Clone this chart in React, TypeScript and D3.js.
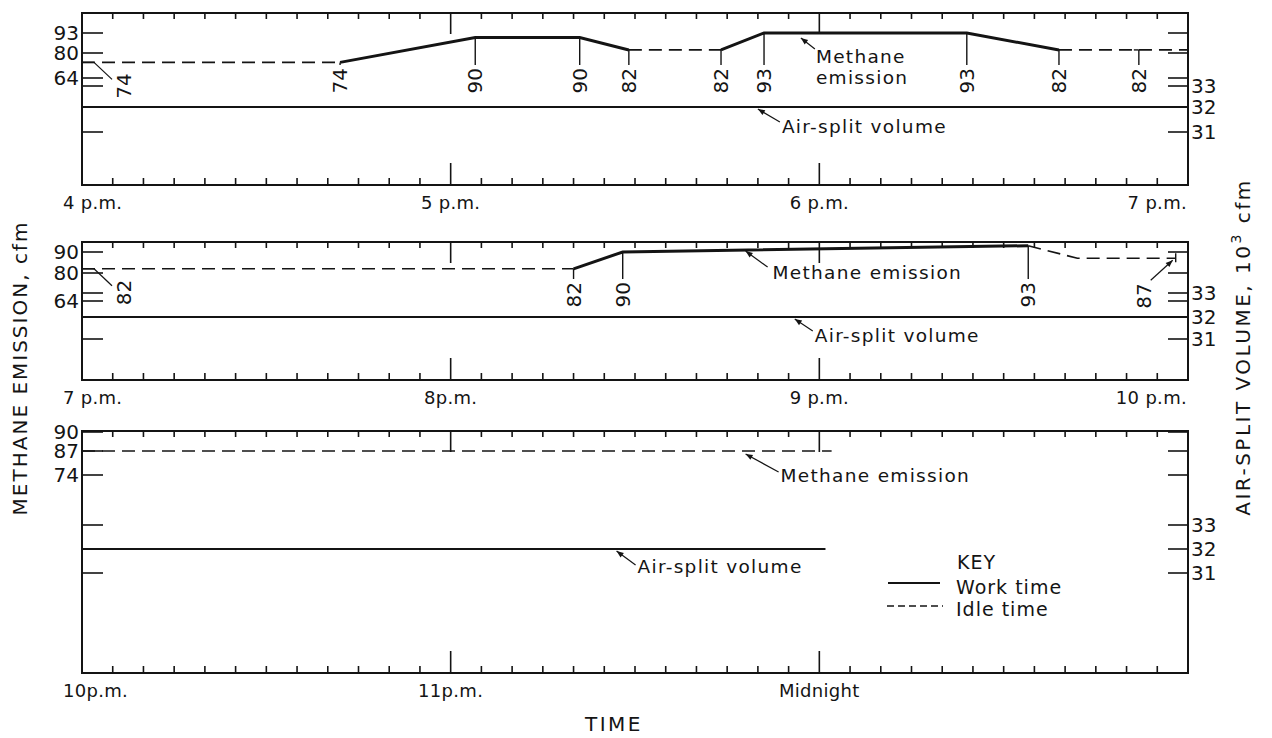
import { useRef, useEffect } from "react";
import * as d3 from "d3";

// methane emission (cfm): breakpoints for each 3-hour strip
// shift = kind of the segment that starts at that point, note = how the value is labelled
const p1Times = ["16:00", "16:42", "17:04", "17:21", "17:29", "17:44", "17:51", "18:24", "18:39", "18:52", "19:00"];
const p1Methane = [74, 74, 90, 90, 82, 82, 93, 93, 82, 82, 82];
const p1Shift = ["idle", "work", "work", "work", "idle", "work", "work", "work", "idle", "idle"];
const p1Notes = ["start", "down", "down", "down", "down", "down", "down", "down", "down", "hook", ""];

const p2Times = ["19:00", "20:20", "20:28", "21:34", "21:42", "21:58"];
const p2Methane = [82, 82, 90, 93, 87, 87];
const p2Shift = ["idle", "work", "work", "idle", "idle"];
const p2Notes = ["start", "down", "down", "down", "", "end"];

const p3Times = ["22:00", "24:02"];
const p3Methane = [87, 87];
const p3Shift = ["idle"];
const p3Notes = ["", ""];

// air-split volume (10^3 cfm)
const p1AirTimes = ["16:00", "19:00"];
const p1Air = [32, 32];
const p2AirTimes = ["19:00", "22:00"];
const p2Air = [32, 32];
const p3AirTimes = ["22:00", "24:01"];
const p3Air = [32, 32];

// tick values
const p1MethaneTicks = [93, 80, 64];
const p2MethaneTicks = [90, 80, 64];
const p3MethaneTicks = [90, 87, 74];
const airTicks = [33, 32, 31];

const p1HourLabels = ["4 p.m.", "5 p.m.", "6 p.m.", "7 p.m."];
const p2HourLabels = ["7 p.m.", "8p.m.", "9 p.m.", "10 p.m."];
const p3HourLabels = ["10p.m.", "11p.m.", "Midnight"];

const W = 1272;
const H = 738;
const LEFT = 82;
const RIGHT = 1188;
const INK = "#141414";
const FONT = "'DejaVu Sans', sans-serif";

const clock = (s: string) => {
  const [h, m] = s.split(":").map(Number);
  return h + m / 60;
};

interface Callout {
  time: string;
  lines: string[];
  tipDy: number;
  tail: [number, number];
  text: [number, number];
}

interface Panel {
  start: number;
  top: number;
  bottom: number;
  times: string[];
  methane: number[];
  shift: string[];
  notes: string[];
  airTimes: string[];
  air: number[];
  methaneTicks: number[];
  methaneRange: number[];
  airRange: number[];
  noteDrop: number;
  hourLabels: string[];
  methaneCallout: Callout;
  airCallout: Callout;
}

const panels: Panel[] = [
  {
    start: 16, top: 13, bottom: 185,
    times: p1Times, methane: p1Methane, shift: p1Shift, notes: p1Notes,
    airTimes: p1AirTimes, air: p1Air,
    methaneTicks: p1MethaneTicks, methaneRange: [33, 53, 78],
    airRange: [86, 107, 132], noteDrop: 52, hourLabels: p1HourLabels,
    methaneCallout: { time: "17:57", lines: ["Methane", "emission"], tipDy: 5, tail: [14, 11], text: [15, 25] },
    airCallout: { time: "17:50", lines: ["Air-split volume"], tipDy: 2, tail: [22, 13], text: [24, 24] },
  },
  {
    start: 19, top: 242, bottom: 380,
    times: p2Times, methane: p2Methane, shift: p2Shift, notes: p2Notes,
    airTimes: p2AirTimes, air: p2Air,
    methaneTicks: p2MethaneTicks, methaneRange: [252, 273, 301],
    airRange: [293, 317, 339], noteDrop: 37, hourLabels: p2HourLabels,
    methaneCallout: { time: "20:48", lines: ["Methane emission"], tipDy: 1, tail: [22, 16], text: [27, 28] },
    airCallout: { time: "20:56", lines: ["Air-split volume"], tipDy: 2, tail: [18, 12], text: [20, 23] },
  },
  {
    start: 22, top: 431, bottom: 673,
    times: p3Times, methane: p3Methane, shift: p3Shift, notes: p3Notes,
    airTimes: p3AirTimes, air: p3Air,
    methaneTicks: p3MethaneTicks, methaneRange: [432, 451, 475],
    airRange: [525, 549, 573], noteDrop: 40, hourLabels: p3HourLabels,
    methaneCallout: { time: "23:48", lines: ["Methane emission"], tipDy: 3, tail: [33, 18], text: [35, 28] },
    airCallout: { time: "23:27", lines: ["Air-split volume"], tipDy: 2, tail: [19, 14], text: [21, 22] },
  },
];

type Sel = d3.Selection<any, unknown, null, undefined>;

function text(g: Sel, x: number, y: number, s: string, size = 19, anchor = "start", ls = 0) {
  return g
    .append("text")
    .attr("x", x)
    .attr("y", y)
    .attr("font-size", size)
    .attr("font-family", FONT)
    .attr("letter-spacing", ls)
    .attr("text-anchor", anchor)
    .attr("fill", INK)
    .text(s);
}

// value written sideways, reading upward, its end at (x, yTop)
function sideLabel(g: Sel, x: number, yTop: number, s: string) {
  g.append("text")
    .attr("transform", `translate(${x},${yTop}) rotate(-90)`)
    .attr("text-anchor", "end")
    .attr("dy", "0.36em")
    .attr("font-size", 20)
    .attr("font-family", FONT)
    .attr("fill", INK)
    .text(s);
}

function seg(g: Sel, x1: number, y1: number, x2: number, y2: number, w = 1.2) {
  return g
    .append("line")
    .attr("x1", x1).attr("y1", y1).attr("x2", x2).attr("y2", y2)
    .attr("stroke", INK).attr("stroke-width", w);
}

function drawPanel(svg: Sel, p: Panel) {
  const g = svg.append("g");
  const x = d3.scaleLinear().domain([p.start, p.start + 3]).range([LEFT, RIGHT]);
  const yM = d3.scaleLinear().domain(p.methaneTicks).range(p.methaneRange);
  const yA = d3.scaleLinear().domain(airTicks).range(p.airRange);

  // frame
  g.append("rect")
    .attr("x", LEFT).attr("y", p.top)
    .attr("width", RIGHT - LEFT).attr("height", p.bottom - p.top)
    .attr("fill", "none").attr("stroke", INK).attr("stroke-width", 2);

  // time ticks every 5 minutes, hours longer
  d3.range(1, 36).forEach((i) => {
    const tx = x(p.start + i / 12);
    const hour = i % 12 === 0;
    seg(g, tx, p.bottom, tx, p.bottom - (hour ? 22 : 7), 1.6);
    seg(g, tx, p.top, tx, p.top + (hour ? 21 : 6), 1.6);
  });

  // vertical ticks: both scales on both sides
  const ys = [...p.methaneTicks.map((v) => yM(v)), ...airTicks.map((v) => yA(v))];
  ys.forEach((yy) => {
    seg(g, LEFT, yy, LEFT + 21, yy, 1.6);
    seg(g, RIGHT - 20, yy, RIGHT, yy, 1.6);
  });
  p.methaneTicks.forEach((v) =>
    text(g, LEFT - 3, yM(v), String(v), 20).attr("dy", "0.36em").attr("text-anchor", "end")
  );
  airTicks.forEach((v) => text(g, RIGHT + 3, yA(v), String(v), 20).attr("dy", "0.36em"));

  // air-split volume
  const air = p.airTimes.map((t, i) => [clock(t), p.air[i]] as [number, number]);
  g.append("path")
    .attr("d", d3.line<[number, number]>().x((d) => x(d[0])).y((d) => yA(d[1]))(air))
    .attr("fill", "none").attr("stroke", INK).attr("stroke-width", 1.8);

  // methane emission, grouped in runs of work / idle
  const pts = p.times.map((t, i) => [clock(t), p.methane[i]] as [number, number]);
  const line = d3.line<[number, number]>().x((d) => x(d[0])).y((d) => yM(d[1]));
  let runStart = 0;
  for (let i = 1; i <= p.shift.length; i++) {
    if (i === p.shift.length || p.shift[i] !== p.shift[runStart]) {
      const work = p.shift[runStart] === "work";
      g.append("path")
        .attr("d", line(pts.slice(runStart, i + 1)))
        .attr("fill", "none")
        .attr("stroke", INK)
        .attr("stroke-width", work ? 3 : 1.6)
        .attr("stroke-dasharray", work ? null : "13,7");
      runStart = i;
    }
  }

  // value notes
  const dropY = p.top + p.noteDrop;
  pts.forEach(([t, v], i) => {
    const kind = p.notes[i];
    const px = x(t);
    const py = yM(v);
    if (kind === "down" || kind === "hook") {
      if (kind === "hook") seg(g, px - 5, py, px, py, 1.4);
      seg(g, px, py, px, dropY, 1.4);
      sideLabel(g, px, dropY + 3, String(v));
    } else if (kind === "start") {
      seg(g, px, py, px + 12, py, 1.4);
      seg(g, px + 12, py, px + 30, py + 17, 1.2);
      sideLabel(g, px + 42, py + 11, String(v));
    } else if (kind === "end") {
      seg(g, px, py - 5, px, py + 4, 1.4);
      seg(g, px - 25, py + 22, px - 3, py + 2, 1.2).attr("marker-end", "url(#arrow)");
      sideLabel(g, px - 32, py + 25, String(v));
    }
  });

  // callouts
  const methaneAt = d3.scaleLinear().domain(pts.map((d) => d[0])).range(pts.map((d) => d[1]));
  const callout = (c: Callout, yOf: (t: number) => number) => {
    const tx = x(clock(c.time));
    const ty = yOf(clock(c.time)) + c.tipDy;
    seg(g, tx + c.tail[0], ty + c.tail[1], tx, ty, 1.2).attr("marker-end", "url(#arrow)");
    c.lines.forEach((s, k) => text(g, tx + c.text[0], ty + c.text[1] + k * 21, s, 18.5, "start", 1.3));
  };
  callout(p.methaneCallout, (t) => yM(methaneAt(t)));
  callout(p.airCallout, () => yA(32));

  // hour labels
  p.hourLabels.forEach((s, i) => {
    const lx = x(p.start + i);
    if (i === 0) text(g, LEFT - 19, p.bottom + 24, s, 18, "start", 0.3);
    else if (i === 3) text(g, RIGHT - 1, p.bottom + 24, s, 18, "end", 0.3);
    else text(g, lx, p.bottom + 24, s, 18, "middle", 0.3);
  });
}

export default function App() {
  const ref = useRef<SVGSVGElement>(null);

  useEffect(() => {
    if (!ref.current) return;
    const svg = d3.select(ref.current);
    svg.selectAll("*").remove();

    svg.append("rect").attr("width", W).attr("height", H).attr("fill", "#fff");
    svg
      .append("defs")
      .append("marker")
      .attr("id", "arrow")
      .attr("viewBox", "0 0 10 10")
      .attr("refX", 10)
      .attr("refY", 5)
      .attr("markerWidth", 9)
      .attr("markerHeight", 7)
      .attr("markerUnits", "userSpaceOnUse")
      .attr("orient", "auto")
      .append("path")
      .attr("d", "M0,1 L10,5 L0,9 Z")
      .attr("fill", INK);

    panels.forEach((p) => drawPanel(svg as Sel, p));

    // axis titles
    svg
      .append("text")
      .attr("transform", "translate(27,368) rotate(-90)")
      .attr("text-anchor", "middle")
      .attr("font-size", 20)
      .attr("font-family", FONT)
      .attr("letter-spacing", 2)
      .attr("fill", INK)
      .text("METHANE EMISSION, cfm");

    const right = svg
      .append("text")
      .attr("transform", "translate(1250,347) rotate(-90)")
      .attr("text-anchor", "middle")
      .attr("font-size", 20)
      .attr("font-family", FONT)
      .attr("letter-spacing", 2.5)
      .attr("fill", INK);
    right.append("tspan").text("AIR-SPLIT VOLUME, 10");
    right.append("tspan").attr("font-size", 14).attr("dy", -9).text("3");
    right.append("tspan").attr("dy", 9).text(" cfm");

    text(svg as Sel, 614, 731, "TIME", 20, "middle", 2.5);

    // key
    const key = svg.append("g") as Sel;
    text(key, 957, 569, "KEY", 19, "start", 1);
    seg(key, 888, 583, 940, 583, 1.8);
    text(key, 956, 594, "Work time", 19, "start", 1);
    seg(key, 887, 606, 943, 606, 1.6).attr("stroke-dasharray", "7,4");
    text(key, 956, 616, "Idle time", 19, "start", 1);
  }, []);

  return (
    <svg
      ref={ref}
      width={W}
      height={H}
      style={{ position: "absolute", left: 0, top: 0, display: "block" }}
    />
  );
}
